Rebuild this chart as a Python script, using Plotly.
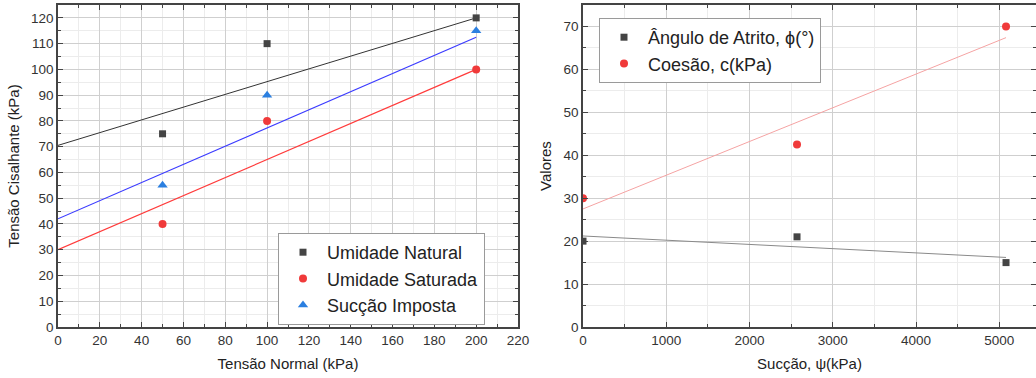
import plotly.graph_objects as go

# Shear tests: normal stress vs shear stress
tensao_normal = [50, 100, 200]
natural = [75, 110, 120]
saturada = [40, 80, 100]
succao_imposta = [55, 90, 115]

# Fitted envelopes (values at normal stress 0 and 200 kPa)
fit_x = [0, 200]
fit_natural = [70.5, 120.0]
fit_saturada = [30.0, 100.0]
fit_succao = [42.0, 112.5]

# Strength parameters vs suction
succao = [0, 2570, 5080]
angulo_atrito = [20, 21, 15]
coesao = [30, 42.5, 70]

fit_succ_x = [0, 5080]
fit_angulo = [21.2, 16.2]
fit_coesao = [27.5, 67.4]

FONT = "Liberation Sans, Arial, sans-serif"
DARK = "#444444"
RED = "#f03a3a"
BLUE = "#2b7fe0"

fig = go.Figure()

# Left panel: envelopes
fig.add_trace(go.Scatter(x=fit_x, y=fit_natural, mode="lines",
                         line=dict(color="#333333", width=1), showlegend=False,
                         xaxis="x", yaxis="y"))
fig.add_trace(go.Scatter(x=fit_x, y=fit_saturada, mode="lines",
                         line=dict(color="#ff3b3b", width=1.2), showlegend=False,
                         xaxis="x", yaxis="y"))
fig.add_trace(go.Scatter(x=fit_x, y=fit_succao, mode="lines",
                         line=dict(color="#3b3bff", width=1.2), showlegend=False,
                         xaxis="x", yaxis="y"))
fig.add_trace(go.Scatter(x=tensao_normal, y=natural, mode="markers", name="Umidade Natural",
                         marker=dict(symbol="square", size=7, color=DARK),
                         xaxis="x", yaxis="y", legend="legend"))
fig.add_trace(go.Scatter(x=tensao_normal, y=saturada, mode="markers", name="Umidade Saturada",
                         marker=dict(symbol="circle", size=8, color=RED),
                         xaxis="x", yaxis="y", legend="legend"))
fig.add_trace(go.Scatter(x=tensao_normal, y=succao_imposta, mode="markers", name="Sucção Imposta",
                         marker=dict(symbol="triangle-up", size=9, color=BLUE),
                         xaxis="x", yaxis="y", legend="legend"))

# Right panel: parameters vs suction
fig.add_trace(go.Scatter(x=fit_succ_x, y=fit_angulo, mode="lines",
                         line=dict(color="#8a8a8a", width=1), showlegend=False,
                         xaxis="x2", yaxis="y2"))
fig.add_trace(go.Scatter(x=fit_succ_x, y=fit_coesao, mode="lines",
                         line=dict(color="#f5a3a3", width=1), showlegend=False,
                         xaxis="x2", yaxis="y2"))
fig.add_trace(go.Scatter(x=succao, y=angulo_atrito, mode="markers", name="Ângulo de Atrito, ϕ(°)",
                         marker=dict(symbol="square", size=7, color=DARK),
                         xaxis="x2", yaxis="y2", legend="legend2"))
fig.add_trace(go.Scatter(x=succao, y=coesao, mode="markers", name="Coesão, c(kPa)",
                         marker=dict(symbol="circle", size=8, color=RED),
                         xaxis="x2", yaxis="y2", legend="legend2"))

W, H = 1036, 378
y_dom = [(H - 327) / H, (H - 5) / H]

common_axis = dict(
    showline=True, linecolor=DARK, linewidth=1.5, mirror="ticks",
    ticks="inside", ticklen=5, tickcolor=DARK, tickwidth=1,
    showgrid=True, gridcolor="#cfcfcf", gridwidth=1,
    zeroline=False, automargin=False,
    tickfont=dict(family=FONT, size=13.5, color="#333333"),
    title_font=dict(family=FONT, size=15, color="#222222"),
)

minor_style = dict(showgrid=True, gridcolor="#ececec", ticks="inside", ticklen=3, tickcolor=DARK)

legend_style = dict(
    xanchor="left", yanchor="top",
    bgcolor="white", bordercolor="#9a9a9a", borderwidth=1,
    font=dict(family=FONT, size=18, color="#222222"),
    itemsizing="trace", tracegroupgap=0, itemwidth=38,
)

fig.update_layout(
    width=W, height=H,
    margin=dict(l=0, r=0, t=0, b=0),
    paper_bgcolor="white", plot_bgcolor="white",
    font=dict(family=FONT),
    xaxis=dict(domain=[58 / W, 518 / W], range=[0, 220], dtick=20, anchor="y",
               minor=dict(dtick=10, **minor_style),
               title=dict(text="Tensão Normal (kPa)", standoff=12), **common_axis),
    yaxis=dict(domain=y_dom, range=[0, 125], dtick=10, anchor="x",
               minor=dict(dtick=5, **minor_style),
               title=dict(text="Tensão Cisalhante (kPa)", standoff=8), **common_axis),
    xaxis2=dict(domain=[583 / W, 1.0], range=[0, 5440], dtick=1000, anchor="y2",
                minor=dict(dtick=500, **minor_style),
                title=dict(text="Sucção, ψ(kPa)", standoff=12), **common_axis),
    yaxis2=dict(domain=y_dom, range=[0, 75], dtick=10, anchor="x2",
                minor=dict(dtick=5, **minor_style),
                title=dict(text="Valores", standoff=8), **common_axis),
    legend=dict(x=278 / W, y=1 - 233 / H, **legend_style),
    legend2=dict(x=599 / W, y=1 - 18 / H, **legend_style),
)

fig.write_html("out.html")
